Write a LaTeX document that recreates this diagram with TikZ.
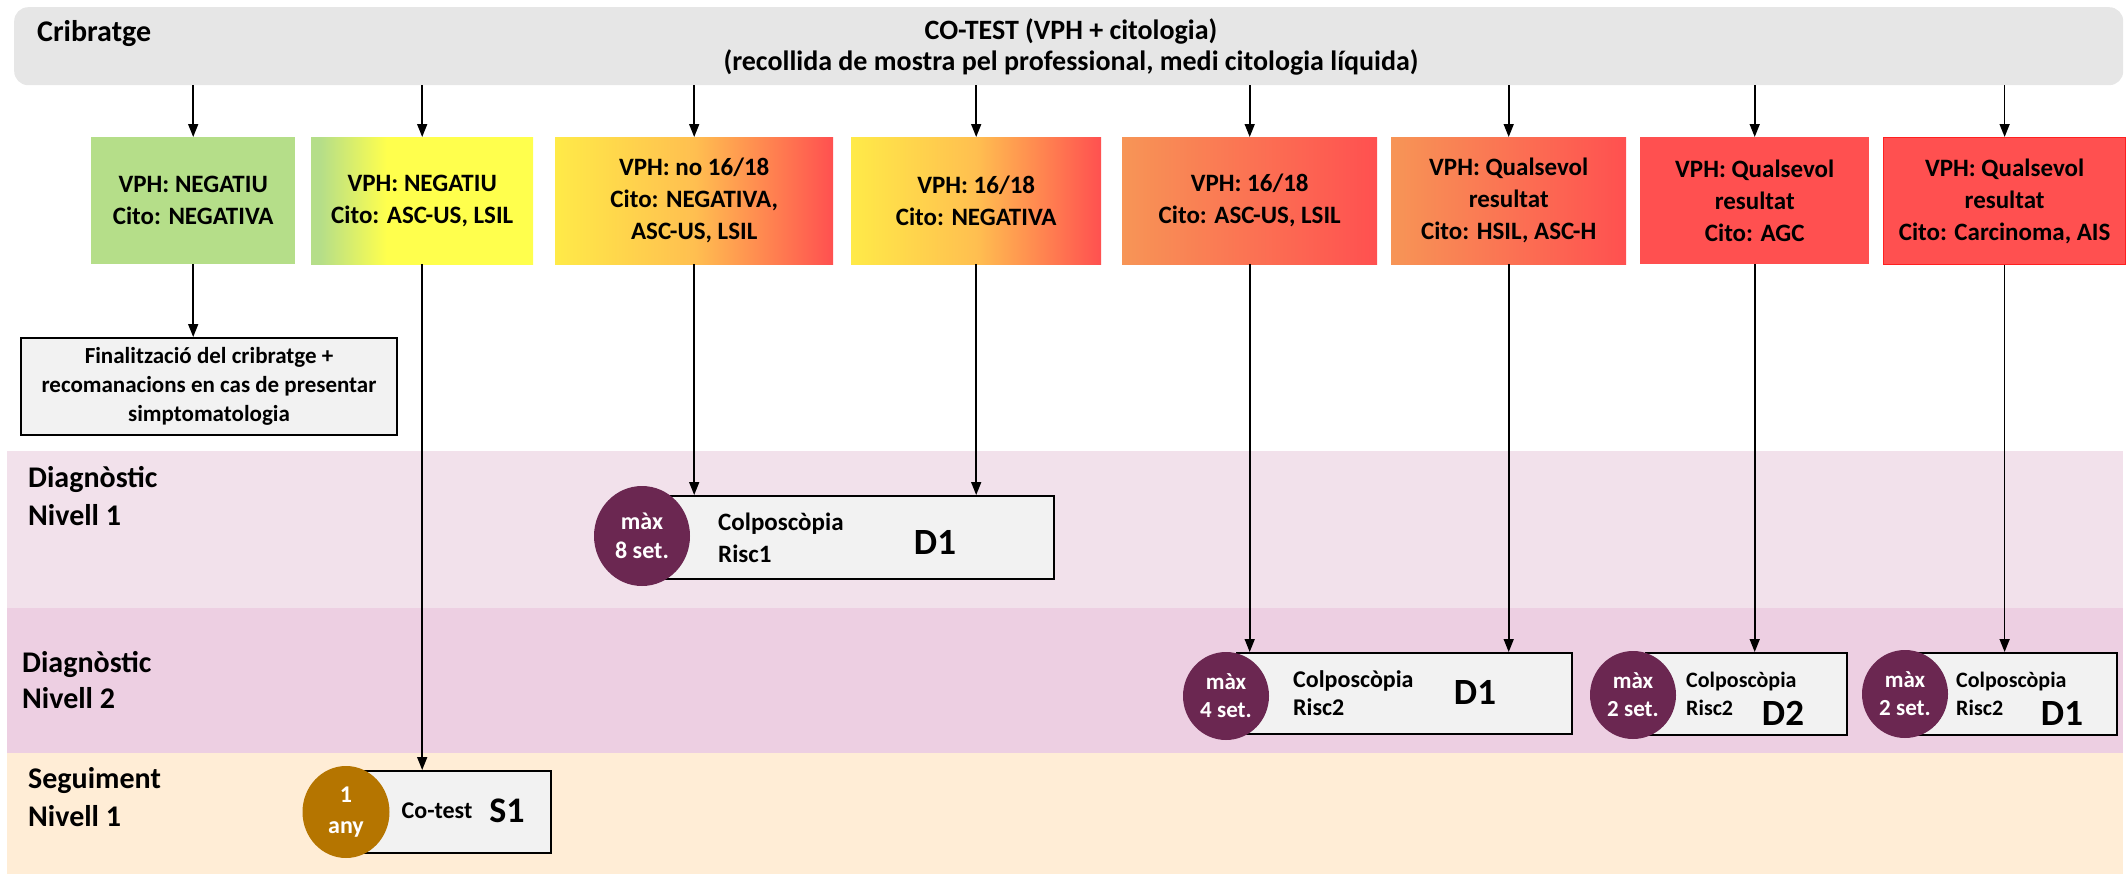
\documentclass[tikz,border=0pt]{standalone}
\usepackage{fontspec}
\setmainfont{Carlito}
\usetikzlibrary{arrows.meta,shapes.geometric}

% palette
\definecolor{bannergray}{HTML}{E6E6E6}
\definecolor{boxgray}{HTML}{F2F2F2}
\definecolor{okgreen}{HTML}{B5DE89}
\definecolor{warnyellow}{HTML}{FFFF4D}
\definecolor{softyellow}{HTML}{FFEA48}
\definecolor{midorange}{HTML}{FFBF50}
\definecolor{lightorange}{HTML}{F79556}
\definecolor{alertred}{HTML}{FF5050}
\definecolor{edgered}{HTML}{FF2020}
\definecolor{plum}{HTML}{6B2751}
\definecolor{ochre}{HTML}{B57500}
\definecolor{bandone}{HTML}{F2E1EB}
\definecolor{bandtwo}{HTML}{EDCFE2}
\definecolor{bandthree}{HTML}{FFEDD6}

% left-to-right fills of the result boxes (path box = 25bp..75bp)
\pgfdeclarehorizontalshading{greentoyellow}{100bp}{color(0bp)=(okgreen); color(27bp)=(okgreen); color(42bp)=(warnyellow); color(100bp)=(warnyellow)}
\pgfdeclarehorizontalshading{yellowtored}{100bp}{color(0bp)=(softyellow); color(25bp)=(softyellow); color(50bp)=(midorange); color(75bp)=(alertred); color(100bp)=(alertred)}
\pgfdeclarehorizontalshading{orangetored}{100bp}{color(0bp)=(lightorange); color(25bp)=(lightorange); color(75bp)=(alertred); color(100bp)=(alertred)}

\tikzset{
  band/.style={anchor=north west, minimum width=2116, inner sep=0, draw=none},
  bandlabel/.style={anchor=base west, align=left, inner sep=0,
    font=\fontsize{30}{38}\selectfont\bfseries},
  topbox/.style={anchor=north west, minimum height=127, inner sep=2pt, align=center,
    font=\fontsize{25}{32}\selectfont\bfseries},
  stepbox/.style={anchor=north west, fill=boxgray, draw=black, line width=2pt, inner sep=0},
  timer/.style={ellipse, inner sep=0, text=white, align=center},
  proc/.style={anchor=base west, align=left, inner sep=0},
  code/.style={inner sep=0, font=\fontsize{37}{40}\selectfont\bfseries},
  arr/.style={-{Triangle[length=13pt,width=10pt]}, line width=1.6pt, draw=black}
}

\begin{document}
\begin{tikzpicture}[x=1pt,y=-1pt]
\useasboundingbox (0,0) rectangle (2127,875);

% swimlane backgrounds
\node[band, fill=bandone,   minimum height=157] (lane1) at (7,451) {};
\node[band, fill=bandtwo,   minimum height=145] (lane2) at (7,608) {};
\node[band, fill=bandthree, minimum height=121] (lane3) at (7,753) {};

% lane titles (anchored on the baseline of their last line)
\node[bandlabel] (lab1) at (28,525) {Diagnòstic\\Nivell 1};
\node[bandlabel, font=\fontsize{30}{36}\selectfont\bfseries] (lab2) at (22,708) {Diagnòstic\\Nivell 2};
\node[bandlabel] (lab3) at (28,826) {Seguiment\\Nivell 1};

% screening banner
\node[anchor=north west, fill=bannergray, rounded corners=14pt, minimum width=2109,
      minimum height=78, inner sep=0] (banner) at (14,7) {};
\node[anchor=base west, inner sep=0, font=\fontsize{30}{36}\selectfont\bfseries]
      (crib) at (37,42) {Cribratge};
\node[align=center, inner sep=0, font=\fontsize{28}{31}\selectfont\bfseries]
      (cotest) at (1071,47) {CO-TEST (VPH + citologia)\\(recollida de mostra pel professional, medi citologia líquida)};

% result boxes
\node[topbox, fill=okgreen, minimum width=204] (b1) at (91,137) {VPH: NEGATIU\\Cito: NEGATIVA};
\node[topbox, shading=greentoyellow, minimum width=222] (b2) at (311,137) {VPH: NEGATIU\\Cito: ASC-US, LSIL};
\node[topbox, shading=yellowtored, minimum width=278] (b3) at (555,137) {VPH: no 16/18\\Cito: NEGATIVA,\\ASC-US, LSIL};
\node[topbox, shading=yellowtored, minimum width=250] (b4) at (851,137) {VPH: 16/18\\Cito: NEGATIVA};
\node[topbox, shading=orangetored, minimum width=255] (b5) at (1122,137) {VPH: 16/18\\Cito: ASC-US, LSIL};
\node[topbox, shading=orangetored, minimum width=235] (b6) at (1391,137) {VPH: Qualsevol\\resultat\\Cito: HSIL, ASC-H};
\node[topbox, fill=alertred, minimum width=229] (b7) at (1640,137) {VPH: Qualsevol\\resultat\\Cito: AGC};
\node[topbox, fill=alertred, draw=edgered, line width=1.2pt, minimum width=242] (b8) at (1883,137) {VPH: Qualsevol\\resultat\\Cito: Carcinoma, AIS};

% end of screening
\node[stepbox, minimum width=376, minimum height=97, align=center,
      font=\fontsize{23}{29}\selectfont\bfseries] (fin) at (20,337)
      {Finalització del cribratge +\\recomanacions en cas de presentar\\simptomatologia};

% diagnostic level 1
\node[stepbox, minimum width=401, minimum height=83] (d1) at (652,495) {};
\node[timer, fill=plum, minimum width=96, minimum height=100,
      font=\fontsize{24}{29}\selectfont\bfseries] (t1) at (642,536) {màx\\8 set.};
\node[proc, font=\fontsize{25}{32}\selectfont\bfseries] (p1) at (718,562) {Colposcòpia\\Risc1};
\node[code] (k1) at (935,542) {D1};

% diagnostic level 2
\node[stepbox, minimum width=335, minimum height=81] (d2a) at (1236,652) {};
\node[timer, fill=plum, minimum width=86, minimum height=88,
      font=\fontsize{23}{28}\selectfont\bfseries] (t2a) at (1226,696) {màx\\4 set.};
\node[proc, font=\fontsize{24}{28}\selectfont\bfseries] (p2a) at (1293,715) {Colposcòpia\\Risc2};
\node[code] (k2a) at (1475,692) {D1};

\node[stepbox, minimum width=201, minimum height=82] (d2b) at (1645,652) {};
\node[timer, fill=plum, minimum width=86, minimum height=88,
      font=\fontsize{23}{28}\selectfont\bfseries] (t2b) at (1633,695) {màx\\2 set.};
\node[proc, font=\fontsize{22}{28}\selectfont\bfseries] (p2b) at (1686,715) {Colposcòpia\\Risc2};
\node[code] (k2b) at (1783,713) {D2};

\node[stepbox, minimum width=199, minimum height=82] (d2c) at (1917,652) {};
\node[timer, fill=plum, minimum width=86, minimum height=88,
      font=\fontsize{23}{28}\selectfont\bfseries] (t2c) at (1905,694) {màx\\2 set.};
\node[proc, font=\fontsize{22}{28}\selectfont\bfseries] (p2c) at (1956,715) {Colposcòpia\\Risc2};
\node[code] (k2c) at (2062,713) {D1};

% follow-up level 1
\node[stepbox, minimum width=195, minimum height=82] (s1) at (355,770) {};
\node[timer, fill=ochre, minimum width=87, minimum height=92,
      font=\fontsize{24}{31}\selectfont\bfseries] (t3) at (346,812) {1\\any};
\node[inner sep=0, font=\fontsize{24}{28}\selectfont\bfseries] (p3) at (437,811) {Co-test};
\node[code, font=\fontsize{36}{40}\selectfont\bfseries] (k3) at (507,811) {S1};

% connectors
\foreach \b in {b1,b2,b3,b4,b5,b6,b7,b8}
  \draw[arr] (\b.north |- banner.south) -- (\b.north);
\draw[arr] (b1.south) -- (b1.south |- fin.north);
\draw[arr] (b2.south) -- (b2.south |- s1.north);
\draw[arr] (b3.south) -- (b3.south |- d1.north);
\draw[arr] (b4.south) -- (b4.south |- d1.north);
\draw[arr] (b5.south) -- (b5.south |- d2a.north);
\draw[arr] (b6.south) -- (b6.south |- d2a.north);
\draw[arr] (b7.south) -- (b7.south |- d2b.north);
\draw[arr] (b8.south) -- (b8.south |- d2c.north);
\end{tikzpicture}
\end{document}
